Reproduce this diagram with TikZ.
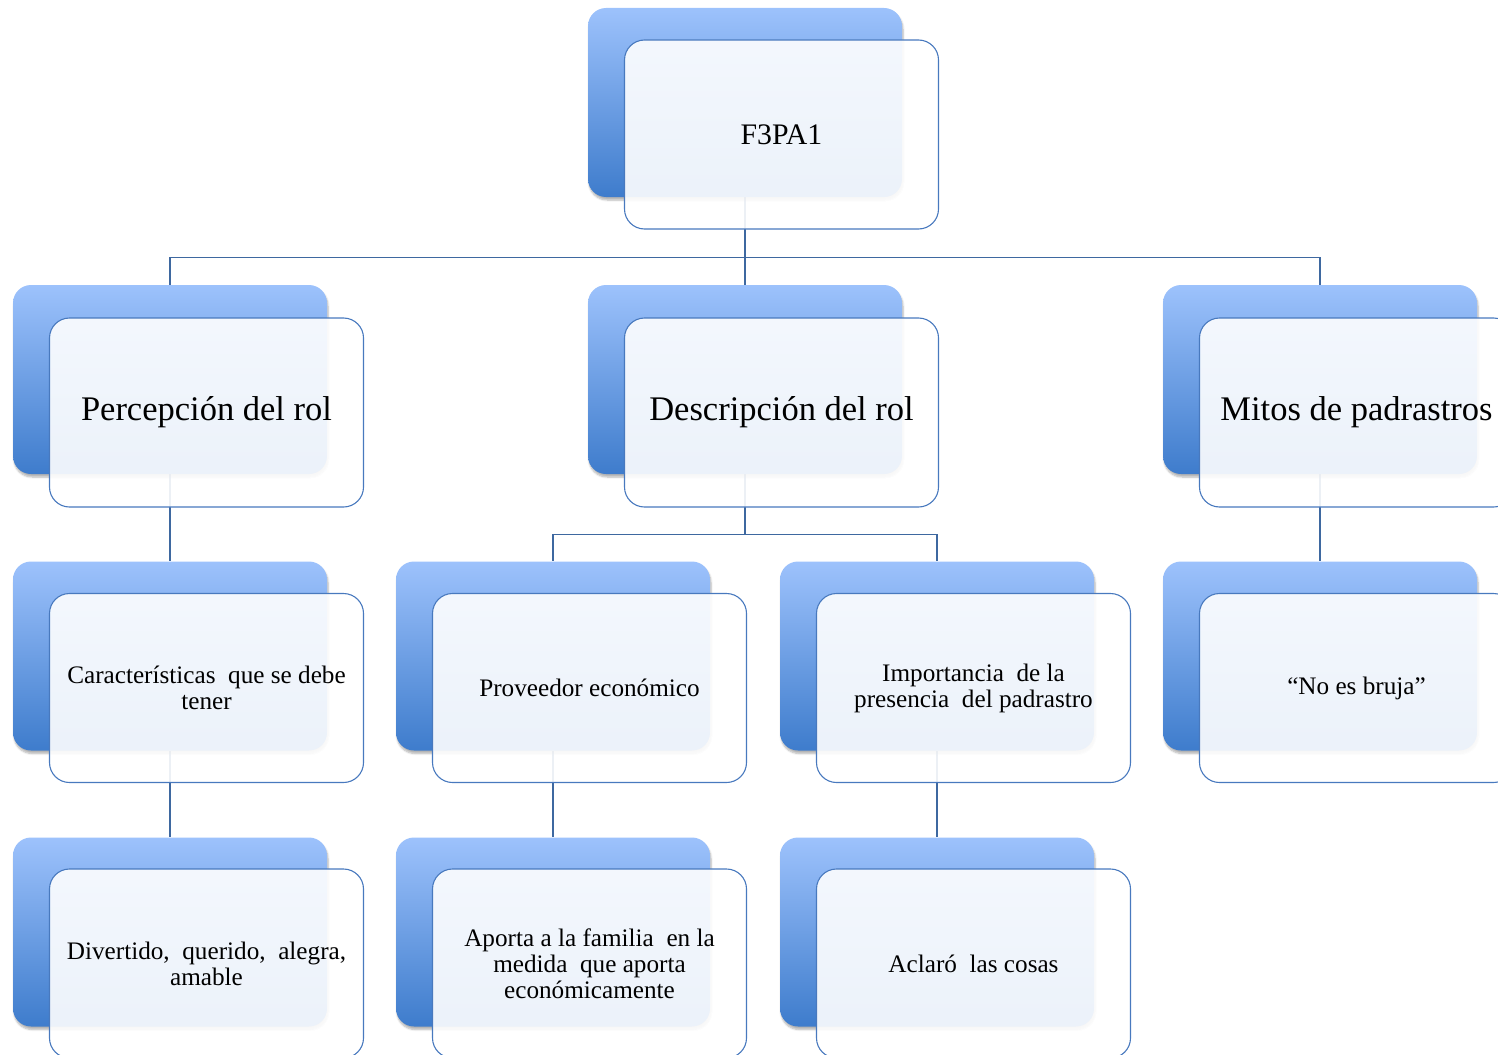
\documentclass[tikz,border=0pt]{standalone}
\usepackage{fontspec}
\setmainfont{Liberation Serif}
\usetikzlibrary{shadows.blur,backgrounds}
\definecolor{backtop}{RGB}{157,194,252}
\definecolor{backbot}{RGB}{62,124,204}
\definecolor{frontline}{RGB}{72,121,190}
\definecolor{conn}{RGB}{62,104,160}
\tikzset{
  backbox/.style={rectangle, rounded corners=18pt, minimum width=314pt, minimum height=189pt,
    inner sep=0pt, top color=backtop, bottom color=backbot, draw=none,
    blur shadow={shadow blur steps=6, shadow xshift=1pt, shadow yshift=-3pt, shadow opacity=30}},
  frontbox/.style={rectangle, rounded corners=20pt, minimum width=314pt, minimum height=189pt,
    inner sep=2pt, draw=frontline, line width=1.1pt, fill=white, fill opacity=0.9, text opacity=1,
    align=center, text=black},
  big/.style={font=\fontsize{34.5}{38}\selectfont},
  rootfont/.style={font=\fontsize{29.8}{32}\selectfont},
  small/.style={font=\fontsize{25.2}{26}\selectfont},
  connector/.style={draw=conn, line width=1.2pt},
}
\begin{document}
\begin{tikzpicture}[x=1pt,y=-1pt]
\useasboundingbox (0,0) rectangle (1498,1054);
\clip (0,0) rectangle (1498,1054);
% root
\node[backbox] (rootb) at (745,102.5) {};
\node[frontbox, rootfont] (rootf) at (781.5,134.5) {F3PA1};
% level 1
\node[backbox] (percb) at (170,379.5) {};
\node[frontbox, big] (percf) at (206.5,412.5) {Percepción del rol};
\node[backbox] (descb) at (745,379.5) {};
\node[frontbox, big] (descf) at (781.5,412.5) {Descripción del rol};
\node[backbox] (mitob) at (1320,379.5) {};
\node[frontbox, big] (mitof) at (1356.5,412.5) {Mitos de padrastros};
% level 2
\node[backbox] (carb) at (170,656) {};
\node[frontbox, small] (carf) at (206.5,688) {Características\ \ que se debe\\tener};
\node[backbox] (provb) at (553,656) {};
\node[frontbox, small] (provf) at (589.5,688) {Proveedor económico};
\node[backbox] (impb) at (937,656) {};
\node[frontbox, small] (impf) at (973.5,688) {Importancia\ \ de la\\presencia\ \ del padrastro};
\node[backbox] (brujb) at (1320,656) {};
\node[frontbox, small] (brujf) at (1356.5,688) {“No es bruja”};
% level 3
\node[backbox] (divb) at (170,932) {};
\node[frontbox, small] (divf) at (206.5,963.5) {Divertido,\ \ querido,\ \ alegra,\\amable};
\node[backbox] (apob) at (553,932) {};
\node[frontbox, small] (apof) at (589.5,963.5) {Aporta a la familia\ \ en la\\medida\ \ que aporta\\económicamente};
\node[backbox] (aclb) at (937,932) {};
\node[frontbox, small] (aclf) at (973.5,963.5) {Aclaró\ \ las cosas};
% connectors (behind)
\begin{scope}[on background layer]
\draw[connector] (rootb.south) |- ([yshift=27pt]percb.north) -- (percb.north);
\draw[connector] (rootb.south) -- (descb.north);
\draw[connector] (rootb.south) |- ([yshift=27pt]mitob.north) -- (mitob.north);
\draw[connector] (percb.south) -- (carb.north);
\draw[connector] (descb.south) |- ([yshift=27pt]provb.north) -- (provb.north);
\draw[connector] (descb.south) |- ([yshift=27pt]impb.north) -- (impb.north);
\draw[connector] (mitob.south) -- (brujb.north);
\draw[connector] (carb.south) -- (divb.north);
\draw[connector] (provb.south) -- (apob.north);
\draw[connector] (impb.south) -- (aclb.north);
\end{scope}
\end{tikzpicture}
\end{document}
